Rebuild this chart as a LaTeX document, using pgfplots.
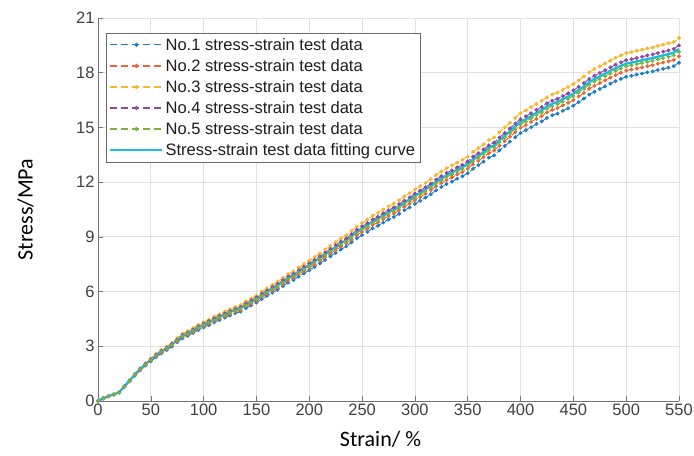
\documentclass[border=0pt]{standalone}
\usepackage{pgfplots}
\pgfplotsset{compat=1.18}
\usepackage{pgfplotstable}
\usepackage{fontspec}
\setmainfont{Liberation Sans}
\newfontfamily\labelfont{Carlito}

\definecolor{cOne}{RGB}{26,127,199}
\definecolor{cTwo}{RGB}{238,100,52}
\definecolor{cThree}{RGB}{250,180,40}
\definecolor{cFour}{RGB}{145,70,160}
\definecolor{cFive}{RGB}{120,180,60}
\definecolor{cFit}{RGB}{20,190,235}
\definecolor{gridgray}{RGB}{225,225,225}
\definecolor{axisgray}{RGB}{115,115,115}
\definecolor{tickgray}{RGB}{64,64,64}
\definecolor{legendgray}{RGB}{105,105,105}
\definecolor{legendtext}{RGB}{30,30,30}

% strain (%), five tensile tests and the fitted curve (MPa)
\pgfplotstableread{
s   n1    n2    n3    n4    n5    fit
0   0.00  0.00  0.00  0.00  0.00  0.00
5   0.14  0.15  0.15  0.15  0.15  0.15
10  0.26  0.26  0.28  0.27  0.27  0.27
15  0.35  0.35  0.37  0.36  0.36  0.36
20  0.46  0.47  0.49  0.48  0.48  0.48
25  0.77  0.78  0.82  0.81  0.79  0.80
30  1.08  1.10  1.15  1.13  1.11  1.12
35  1.39  1.42  1.50  1.47  1.44  1.45
40  1.68  1.71  1.80  1.77  1.74  1.75
45  1.94  1.98  2.08  2.04  2.00  2.02
50  2.18  2.22  2.34  2.29  2.25  2.27
55  2.40  2.45  2.58  2.53  2.48  2.50
60  2.61  2.66  2.80  2.75  2.70  2.72
65  2.79  2.84  2.99  2.93  2.88  2.90
70  2.98  3.04  3.20  3.13  3.08  3.10
75  3.22  3.28  3.45  3.38  3.32  3.35
80  3.44  3.51  3.69  3.62  3.55  3.58
85  3.58  3.64  3.84  3.76  3.69  3.72
90  3.73  3.80  4.00  3.92  3.85  3.88
95  3.89  3.97  4.18  4.09  4.02  4.05
100 4.04  4.11  4.33  4.24  4.17  4.20
105 4.16  4.24  4.46  4.38  4.30  4.33
110 4.31  4.39  4.62  4.53  4.45  4.48
115 4.44  4.52  4.76  4.67  4.58  4.62
120 4.57  4.65  4.90  4.80  4.71  4.75
125 4.69  4.78  5.03  4.93  4.84  4.88
130 4.81  4.90  5.16  5.05  4.96  5.00
135 4.90  4.99  5.26  5.15  5.06  5.10
140 5.09  5.19  5.46  5.36  5.26  5.30
145 5.24  5.34  5.62  5.51  5.41  5.45
150 5.40  5.50  5.79  5.68  5.58  5.62
155 5.59  5.70  6.00  5.88  5.77  5.82
160 5.77  5.88  6.19  6.06  5.95  6.00
165 5.94  6.05  6.37  6.24  6.13  6.18
170 6.10  6.22  6.55  6.42  6.30  6.35
175 6.30  6.41  6.75  6.62  6.50  6.55
180 6.49  6.61  6.96  6.82  6.70  6.75
185 6.63  6.76  7.11  6.97  6.85  6.90
190 6.82  6.95  7.32  7.17  7.04  7.10
195 7.00  7.13  7.51  7.36  7.22  7.28
200 7.17  7.31  7.69  7.54  7.40  7.46
205 7.35  7.49  7.89  7.73  7.59  7.65
210 7.54  7.69  8.09  7.93  7.79  7.85
215 7.74  7.88  8.30  8.13  7.99  8.05
220 7.93  8.08  8.51  8.34  8.19  8.25
225 8.12  8.27  8.71  8.54  8.38  8.45
230 8.31  8.47  8.92  8.74  8.58  8.65
235 8.48  8.64  9.09  8.91  8.75  8.82
240 8.70  8.86  9.33  9.14  8.98  9.05
245 8.92  9.09  9.57  9.38  9.21  9.28
250 9.10  9.27  9.76  9.57  9.40  9.47
255 9.27  9.45  9.95  9.75  9.57  9.65
260 9.47  9.65  10.16 9.95  9.77  9.85
265 9.61  9.79  10.31 10.10 9.92  10.00
270 9.78  9.97  10.50 10.29 10.10 10.18
275 9.95  10.14 10.67 10.46 10.27 10.35
280 10.09 10.28 10.83 10.61 10.42 10.50
285 10.26 10.46 11.01 10.79 10.60 10.68
290 10.46 10.65 11.22 10.99 10.80 10.88
295 10.62 10.82 11.39 11.16 10.96 11.05
300 10.81 11.02 11.60 11.37 11.16 11.25
305 10.98 11.18 11.78 11.54 11.33 11.42
310 11.15 11.36 11.96 11.72 11.51 11.60
315 11.34 11.56 12.17 11.92 11.71 11.80
320 11.55 11.77 12.39 12.14 11.93 12.02
325 11.73 11.95 12.58 12.33 12.10 12.20
330 11.90 12.12 12.76 12.51 12.28 12.38
335 12.03 12.26 12.91 12.65 12.42 12.52
340 12.19 12.42 13.07 12.81 12.58 12.68
345 12.32 12.55 13.22 12.95 12.72 12.82
350 12.49 12.73 13.40 13.14 12.90 13.00
355 12.73 12.98 13.66 13.39 13.15 13.25
360 12.93 13.17 13.87 13.59 13.35 13.45
365 13.12 13.37 14.07 13.79 13.54 13.65
370 13.34 13.59 14.31 14.02 13.77 13.88
375 13.47 13.73 14.46 14.17 13.91 14.02
380 13.74 14.00 14.74 14.45 14.19 14.30
385 13.98 14.25 15.00 14.70 14.44 14.55
390 14.22 14.49 15.26 14.95 14.68 14.80
395 14.46 14.74 15.52 15.21 14.93 15.05
400 14.70 14.98 15.78 15.46 15.18 15.30
405 14.85 15.13 15.93 15.61 15.33 15.45
410 15.01 15.30 16.11 15.78 15.50 15.62
415 15.19 15.47 16.29 15.96 15.68 15.80
420 15.33 15.62 16.45 16.12 15.83 15.95
425 15.52 15.82 16.65 16.32 16.02 16.15
430 15.67 15.96 16.81 16.47 16.17 16.30
435 15.76 16.06 16.91 16.57 16.27 16.40
440 15.91 16.21 17.06 16.72 16.42 16.55
445 16.05 16.35 17.22 16.87 16.57 16.70
450 16.19 16.50 17.37 17.03 16.72 16.85
455 16.39 16.70 17.58 17.23 16.92 17.05
460 16.58 16.89 17.79 17.43 17.12 17.25
465 16.80 17.12 18.02 17.66 17.34 17.48
470 16.96 17.28 18.20 17.83 17.51 17.65
475 17.11 17.43 18.35 17.99 17.66 17.80
480 17.25 17.58 18.51 18.14 17.81 17.95
485 17.40 17.73 18.66 18.29 17.96 18.10
490 17.54 17.87 18.82 18.44 18.11 18.25
495 17.66 18.00 18.95 18.57 18.24 18.38
500 17.78 18.12 19.08 18.69 18.36 18.50
505 17.83 18.17 19.13 18.74 18.41 18.55
510 17.90 18.23 19.20 18.81 18.47 18.62
515 17.95 18.29 19.26 18.87 18.53 18.68
520 18.02 18.36 19.33 18.95 18.60 18.75
525 18.07 18.41 19.38 19.00 18.65 18.80
530 18.15 18.49 19.47 19.08 18.73 18.88
535 18.21 18.56 19.54 19.15 18.80 18.95
540 18.28 18.63 19.61 19.22 18.87 19.02
545 18.36 18.70 19.69 19.30 18.95 19.10
550 18.55 18.90 19.90 19.50 19.15 19.30
}\stressdata

\begin{document}
\begin{tikzpicture}
\begin{axis}[
  scale only axis,
  width=581pt, height=383pt,
  xmin=0, xmax=550, ymin=0, ymax=21,
  xtick={0,50,...,550}, ytick={0,3,...,21},
  axis x line*=bottom, axis y line*=left,
  grid=major,
  major grid style={draw=gridgray, line width=0.8pt},
  tick align=inside, major tick length=5pt,
  tick style={draw=axisgray, line width=0.6pt},
  axis line style={draw=axisgray, line width=0.8pt},
  /pgf/number format/assume math mode=true,
  ticklabel style={font=\fontsize{16.5}{16.5}\selectfont, text=tickgray},
  xticklabel style={yshift=1pt},
  xlabel={Strain/ \%}, ylabel={Stress/MPa},
  label style={font=\labelfont\fontsize{22}{24}\selectfont, text=black},
  xlabel style={at={(axis description cs:0.5,-0.1)}, anchor=center, xshift=-8pt},
  ylabel style={at={(axis description cs:-0.125,0.5)}, anchor=center},
  legend cell align=left,
  legend style={at={(axis description cs:0.0138,0.961)}, anchor=north west,
    draw=legendgray, fill=white, font=\fontsize{16.5}{18}\selectfont,
    text=legendtext, inner xsep=3pt, inner ysep=3pt, row sep=3.6pt},
  legend image code/.code={%
    \draw[mark repeat=2, mark phase=2, line width=1.2pt]
      plot coordinates {(0pt,0pt) (26pt,0pt) (52pt,0pt)};},
  data/.style={line width=0.9pt, dash pattern=on 7pt off 4pt, mark=*,
    mark size=1.45pt, mark options={solid}},
]
\addplot[data, color=cOne]   table[x=s, y=n1] {\stressdata};
\addlegendentry{No.1 stress-strain test data}
\addplot[data, color=cTwo]   table[x=s, y=n2] {\stressdata};
\addlegendentry{No.2 stress-strain test data}
\addplot[data, color=cThree] table[x=s, y=n3] {\stressdata};
\addlegendentry{No.3 stress-strain test data}
\addplot[data, color=cFour]  table[x=s, y=n4] {\stressdata};
\addlegendentry{No.4 stress-strain test data}
\addplot[data, color=cFive]  table[x=s, y=n5] {\stressdata};
\addlegendentry{No.5 stress-strain test data}
\addplot[color=cFit, line width=2.4pt, no marks,
  legend image code/.code={\draw[line width=2.4pt] (0pt,0pt) -- (52pt,0pt);}]
  table[x=s, y=fit] {\stressdata};
\addlegendentry{Stress-strain test data fitting curve}
\coordinate (bl) at (rel axis cs:0,0);
\coordinate (tr) at (rel axis cs:1,1);
\end{axis}
\pgfresetboundingbox
\path ([xshift=-98pt,yshift=-54pt]bl) rectangle ([xshift=15pt,yshift=18pt]tr);
\end{tikzpicture}
\end{document}
